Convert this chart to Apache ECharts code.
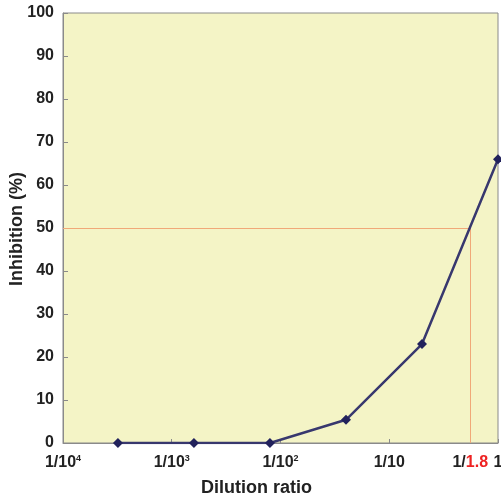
<!DOCTYPE html>
<html><head><meta charset="utf-8">
<script src="https://cdn.jsdelivr.net/npm/echarts@6/dist/echarts.min.js"></script>
<style>html,body{margin:0;padding:0;background:#fff}#c{width:501px;height:502px}</style>
</head><body><div id="c"></div>
<script>
// Dilution ratios (fraction) and inhibition (%)
var dilutions = [1/3125, 1/625, 1/125, 1/25, 1/5, 1];
var inhibition = [0, 0, 0, 5.4, 23, 66];
var xTickValues = [1e-4, 1e-3, 1e-2, 1e-1, 1/1.8, 1];
var xTickLabels = ['{b|1/10}{s|4}', '{b|1/10}{s|3}', '{b|1/10}{s|2}', '{b|1/10}', '{b|1/}{r|1.8}', '{b|1}'];
var yAxisTitle = 'Inhibition (%)';
var xAxisTitle = 'Dilution ratio';
var ic50 = {x: 1/1.8, y: 50, xMin: 1e-4};

var chart = echarts.init(document.getElementById('c'));
chart.setOption({
  animation: false,
  grid: {left: 63, top: 13, right: 3, bottom: 59, outerBoundsMode: 'none', containLabel: false, show: true, backgroundColor: '#f4f4c6', borderColor: '#8a8a8a', borderWidth: 1},
  graphic: [{
    type: 'text', x: 17, y: 229, rotation: Math.PI / 2,
    style: {text: yAxisTitle, align: 'center', verticalAlign: 'middle', fill: '#222',
      font: 'bold 18px "Liberation Sans"'}
  }],
  xAxis: {
    type: 'log', min: 1e-4, max: 1, logBase: 10,
    name: xAxisTitle, nameLocation: 'middle', nameGap: 36,
    nameTextStyle: {fontFamily: 'Liberation Sans', fontWeight: 'bold', fontSize: 18, color: '#222', padding: [0, 48, 0, 0]},
    axisLine: {lineStyle: {color: '#8a8a8a'}},
    axisTick: {inside: true, length: 4, lineStyle: {color: '#8a8a8a'}, customValues: [1e-4, 1e-3, 1e-2, 1e-1, 1]},
    splitLine: {show: false},
    minorTick: {show: false},
    axisLabel: {
      customValues: xTickValues,
      margin: 11,
      formatter: function (v) {
        for (var i = 0; i < xTickValues.length; i++) {
          if (Math.abs(Math.log10(v) - Math.log10(xTickValues[i])) < 1e-6) return xTickLabels[i];
        }
        return '';
      },
      rich: {
        b: {fontFamily: 'Liberation Sans', fontWeight: 'bold', fontSize: 16, lineHeight: 18, color: '#222'},
        s: {fontFamily: 'Liberation Sans', fontWeight: 'bold', fontSize: 9, lineHeight: 10, verticalAlign: 'top', color: '#222'},
        r: {fontFamily: 'Liberation Sans', fontWeight: 'bold', fontSize: 16, lineHeight: 18, color: '#ee2222'}
      }
    }
  },
  yAxis: {
    type: 'value', min: 0, max: 100, interval: 10,
    axisLine: {show: true, lineStyle: {color: '#8a8a8a'}},
    axisTick: {show: true, inside: true, length: 5, lineStyle: {color: '#8a8a8a'}},
    splitLine: {show: false},
    axisLabel: {fontFamily: 'Liberation Sans', fontWeight: 'bold', fontSize: 16, color: '#222', margin: 9}
  },
  series: [{
    type: 'line',
    data: dilutions.map(function (d, i) { return [d, inhibition[i]]; }),
    symbol: 'diamond', symbolSize: 10,
    lineStyle: {color: '#38386e', width: 2.5},
    itemStyle: {color: '#22225c'},
    z: 5,
    markLine: {
      silent: true, symbol: 'none', animation: false,
      lineStyle: {color: '#f0a878', width: 1, type: 'solid'},
      label: {show: false},
      data: [
        [{coord: [ic50.xMin, ic50.y]}, {coord: [ic50.x, ic50.y]}],
        [{coord: [ic50.x, ic50.y]}, {coord: [ic50.x, 0]}]
      ]
    }
  }]
});
</script></body></html>
